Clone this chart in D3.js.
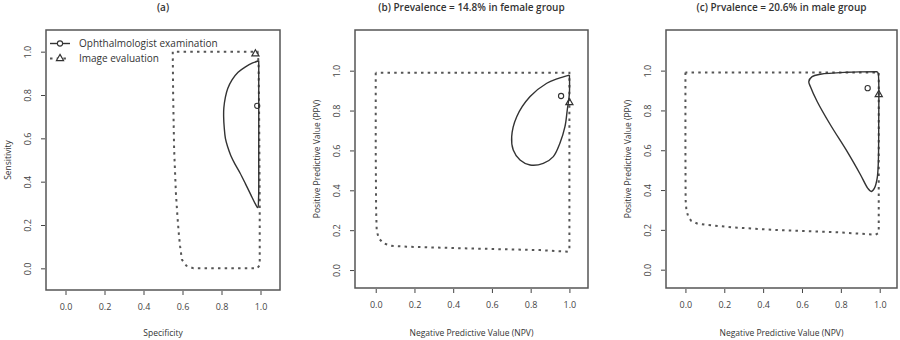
<!DOCTYPE html>
<html>
  <head>
    <style>
      body,
      html {
        margin: 0;
        padding: 0;
        background: #fff;
      }
      text {
        font-family: 'Open Sans', sans-serif;
        fill: #333;
      }
    </style>
  </head>
  <body>
    <svg id="svg" width="900" height="340"></svg>

    <script src="https://cdn.jsdelivr.net/npm/d3@7"></script>
    <script>
      // titles and labels
      const panelTitles = [
        '(a)',
        '(b) Prevalence = 14.8% in female group',
        '(c) Prvalence = 20.6% in male group',
      ];
      const xTitles = ['Specificity', 'Negative Predictive Value (NPV)', 'Negative Predictive Value (NPV)'];
      const yTitles = ['Sensitivity', 'Positive Predictive Value (PPV)', 'Positive Predictive Value (PPV)'];
      const tickValues = [0, 0.2, 0.4, 0.6, 0.8, 1.0];
      const legendLabels = ['Ophthalmologist examination', 'Image evaluation'];

      // (a) sensitivity vs specificity regions
      const ophRegionA = [
        [0.991, 0.958], [0.96, 0.948], [0.923, 0.93], [0.885, 0.905], [0.854, 0.87],
        [0.832, 0.83], [0.82, 0.79], [0.812, 0.74], [0.811, 0.7], [0.814, 0.65],
        [0.82, 0.6], [0.832, 0.56], [0.848, 0.52], [0.87, 0.48], [0.895, 0.44],
        [0.923, 0.39], [0.95, 0.34], [0.972, 0.3], [0.986, 0.28], [0.99, 0.32],
        [0.991, 0.5], [0.991, 0.8], [0.991, 0.958],
      ];
      const imgRegionA = [
        [0.55, 1.0], [0.552, 0.8], [0.557, 0.55], [0.566, 0.35], [0.574, 0.24],
        [0.582, 0.15], [0.588, 0.1], [0.597, 0.04], [0.62, 0.012], [0.657, 0.0],
        [0.983, 0.0], [0.996, 0.015], [0.996, 0.3], [0.993, 0.7], [0.99, 0.95],
        [0.985, 1.0], [0.55, 1.0],
      ];
      const ophPointA = [0.983, 0.75];
      const imgPointA = [0.974, 0.99];

      // (b) PPV vs NPV, female
      const ophRegionB = [
        [1.0, 0.978], [0.94, 0.96], [0.883, 0.937], [0.797, 0.87], [0.728, 0.769],
        [0.702, 0.669], [0.71, 0.602], [0.745, 0.552], [0.797, 0.527], [0.865, 0.535],
        [0.917, 0.569], [0.951, 0.636], [0.977, 0.719], [0.989, 0.803], [1.0, 0.887],
        [1.0, 0.978],
      ];
      const imgRegionB = [
        [0.0, 0.99], [0.0, 0.6], [0.002, 0.3], [0.005, 0.2], [0.015, 0.16],
        [0.04, 0.134], [0.08, 0.122], [0.16, 0.117], [0.5, 0.108], [0.85, 0.1],
        [0.994, 0.092], [1.0, 0.1], [1.0, 0.99], [0.0, 0.99],
      ];
      const ophPointB = [0.957, 0.873];
      const imgPointB = [1.0, 0.84];

      // (c) PPV vs NPV, male
      const ophRegionC = [
        [0.987, 0.995], [0.832, 0.992], [0.695, 0.982], [0.652, 0.97], [0.635, 0.945],
        [0.643, 0.92], [0.678, 0.845], [0.746, 0.728], [0.832, 0.594], [0.901, 0.477],
        [0.938, 0.41], [0.956, 0.393], [0.973, 0.41], [0.987, 0.46], [0.993, 0.543],
        [0.995, 0.744], [0.995, 0.945], [0.992, 0.987], [0.987, 0.995],
      ];
      const imgRegionC = [
        [0.0, 0.99], [0.0, 0.6], [0.001, 0.35], [0.005, 0.3], [0.015, 0.265],
        [0.03, 0.245], [0.06, 0.232], [0.11, 0.225], [0.25, 0.212], [0.455, 0.2],
        [0.8, 0.187], [0.978, 0.176], [0.995, 0.185], [0.995, 0.99], [0.0, 0.99],
      ];
      const ophPointC = [0.938, 0.912];
      const imgPointC = [0.995, 0.88];

      const panels = [
        { left: 46, right: 280, top: 30, bottom: 290, xlim: [-0.1, 1.1], ylim: [-0.1, 1.1],
          oph: ophRegionA, img: imgRegionA, ophPt: ophPointA, imgPt: imgPointA },
        { left: 355, right: 588, top: 30, bottom: 288, xlim: [-0.107, 1.096], ylim: [-0.09, 1.204],
          oph: ophRegionB, img: imgRegionB, ophPt: ophPointB, imgPt: imgPointB },
        { left: 666, right: 897, top: 30, bottom: 288, xlim: [-0.1, 1.089], ylim: [-0.092, 1.204],
          oph: ophRegionC, img: imgRegionC, ophPt: ophPointC, imgPt: imgPointC },
      ];

      const solidColor = '#333';
      const dotColor = '#555';
      const svg = d3.select('#svg');

      panels.forEach((p, i) => {
        const x = d3.scaleLinear().domain(p.xlim).range([p.left, p.right]);
        const y = d3.scaleLinear().domain(p.ylim).range([p.bottom, p.top]);
        const g = svg.append('g');

        // title
        g.append('text')
          .attr('x', (p.left + p.right) / 2)
          .attr('y', 7)
          .attr('dy', '0.35em')
          .attr('text-anchor', 'middle')
          .style('font-size', '10px')
          .style('font-weight', 600)
          .text(panelTitles[i]);

        // axes
        const bottomAxis = d3.axisBottom(x).tickValues(tickValues).tickFormat(d3.format('.1f')).tickSize(4).tickPadding(9);
        const xAxisG = g.append('g').attr('transform', `translate(0, ${p.bottom + 1})`).call(bottomAxis);
        const leftAxis = d3.axisLeft(y).tickValues(tickValues).tickFormat(d3.format('.1f')).tickSize(4);
        const yAxisG = g.append('g').attr('transform', `translate(${p.left - 1}, 0)`).call(leftAxis);

        [xAxisG, yAxisG].forEach((a) => {
          a.select('.domain').remove();
          a.selectAll('line').attr('stroke', '#444');
          a.selectAll('text').style('font-size', '9px').style('fill', '#444').attr('font-family', null);
        });
        yAxisG
          .selectAll('text')
          .attr('transform', 'rotate(-90)')
          .attr('x', 0)
          .attr('y', -17)
          .attr('dy', '0.35em')
          .attr('text-anchor', 'middle');

        // axis titles
        g.append('text')
          .attr('x', (p.left + p.right) / 2)
          .attr('y', 333)
          .attr('dy', '0.35em')
          .attr('text-anchor', 'middle')
          .style('font-size', '8.5px')
          .text(xTitles[i]);
        g.append('text')
          .attr('transform', `translate(${p.left - 38}, ${(p.top + p.bottom) / 2}) rotate(-90)`)
          .attr('dy', '0.35em')
          .attr('text-anchor', 'middle')
          .style('font-size', '8.5px')
          .text(yTitles[i]);

        // regions
        const line = d3
          .line()
          .x((d) => x(d[0]))
          .y((d) => y(d[1]))
          .curve(d3.curveCatmullRom.alpha(0.5));

        g.append('path')
          .attr('d', d3.line().x((d) => x(d[0])).y((d) => y(d[1]))(p.img))
          .attr('fill', 'none')
          .attr('stroke', dotColor)
          .attr('stroke-width', 2)
          .attr('stroke-dasharray', '2.5,4.2');

        g.append('path')
          .attr('d', line(p.oph))
          .attr('fill', 'none')
          .attr('stroke', solidColor)
          .attr('stroke-width', 1.4);

        g.append('circle')
          .attr('cx', x(p.ophPt[0]))
          .attr('cy', y(p.ophPt[1]))
          .attr('r', 2.6)
          .attr('fill', 'none')
          .attr('stroke', solidColor)
          .attr('stroke-width', 1.1);

        g.append('path')
          .attr('transform', `translate(${x(p.imgPt[0])}, ${y(p.imgPt[1])})`)
          .attr('d', d3.symbol(d3.symbolTriangle, 22)())
          .attr('fill', 'none')
          .attr('stroke', solidColor)
          .attr('stroke-width', 1.2);

        // box
        g.append('rect')
          .attr('x', p.left)
          .attr('y', p.top)
          .attr('width', p.right - p.left)
          .attr('height', p.bottom - p.top)
          .attr('fill', 'none')
          .attr('stroke', '#555')
          .attr('stroke-width', 1.5);

        // legend in panel (a)
        if (i === 0) {
          const legend = g.append('g');
          legendLabels.forEach((label, k) => {
            const ly = 43.5 + k * 15;
            legend
              .append('line')
              .attr('x1', 50)
              .attr('x2', 70)
              .attr('y1', ly)
              .attr('y2', ly)
              .attr('stroke', k === 0 ? solidColor : dotColor)
              .attr('stroke-width', k === 0 ? 1.4 : 2)
              .attr('stroke-dasharray', k === 0 ? null : '2.5,4.2');
            if (k === 0) {
              legend
                .append('circle')
                .attr('cx', 60)
                .attr('cy', ly)
                .attr('r', 2.6)
                .attr('fill', '#fff')
                .attr('stroke', solidColor)
                .attr('stroke-width', 1.1);
            } else {
              legend
                .append('path')
                .attr('transform', `translate(60, ${ly})`)
                .attr('d', d3.symbol(d3.symbolTriangle, 22)())
                .attr('fill', '#fff')
                .attr('stroke', solidColor)
                .attr('stroke-width', 1.2);
            }
            legend
              .append('text')
              .attr('x', 79)
              .attr('y', ly)
              .attr('dy', '0.35em')
              .style('font-size', '10px')
              .text(label);
          });
        }
      });
    </script>
  </body>
</html>
